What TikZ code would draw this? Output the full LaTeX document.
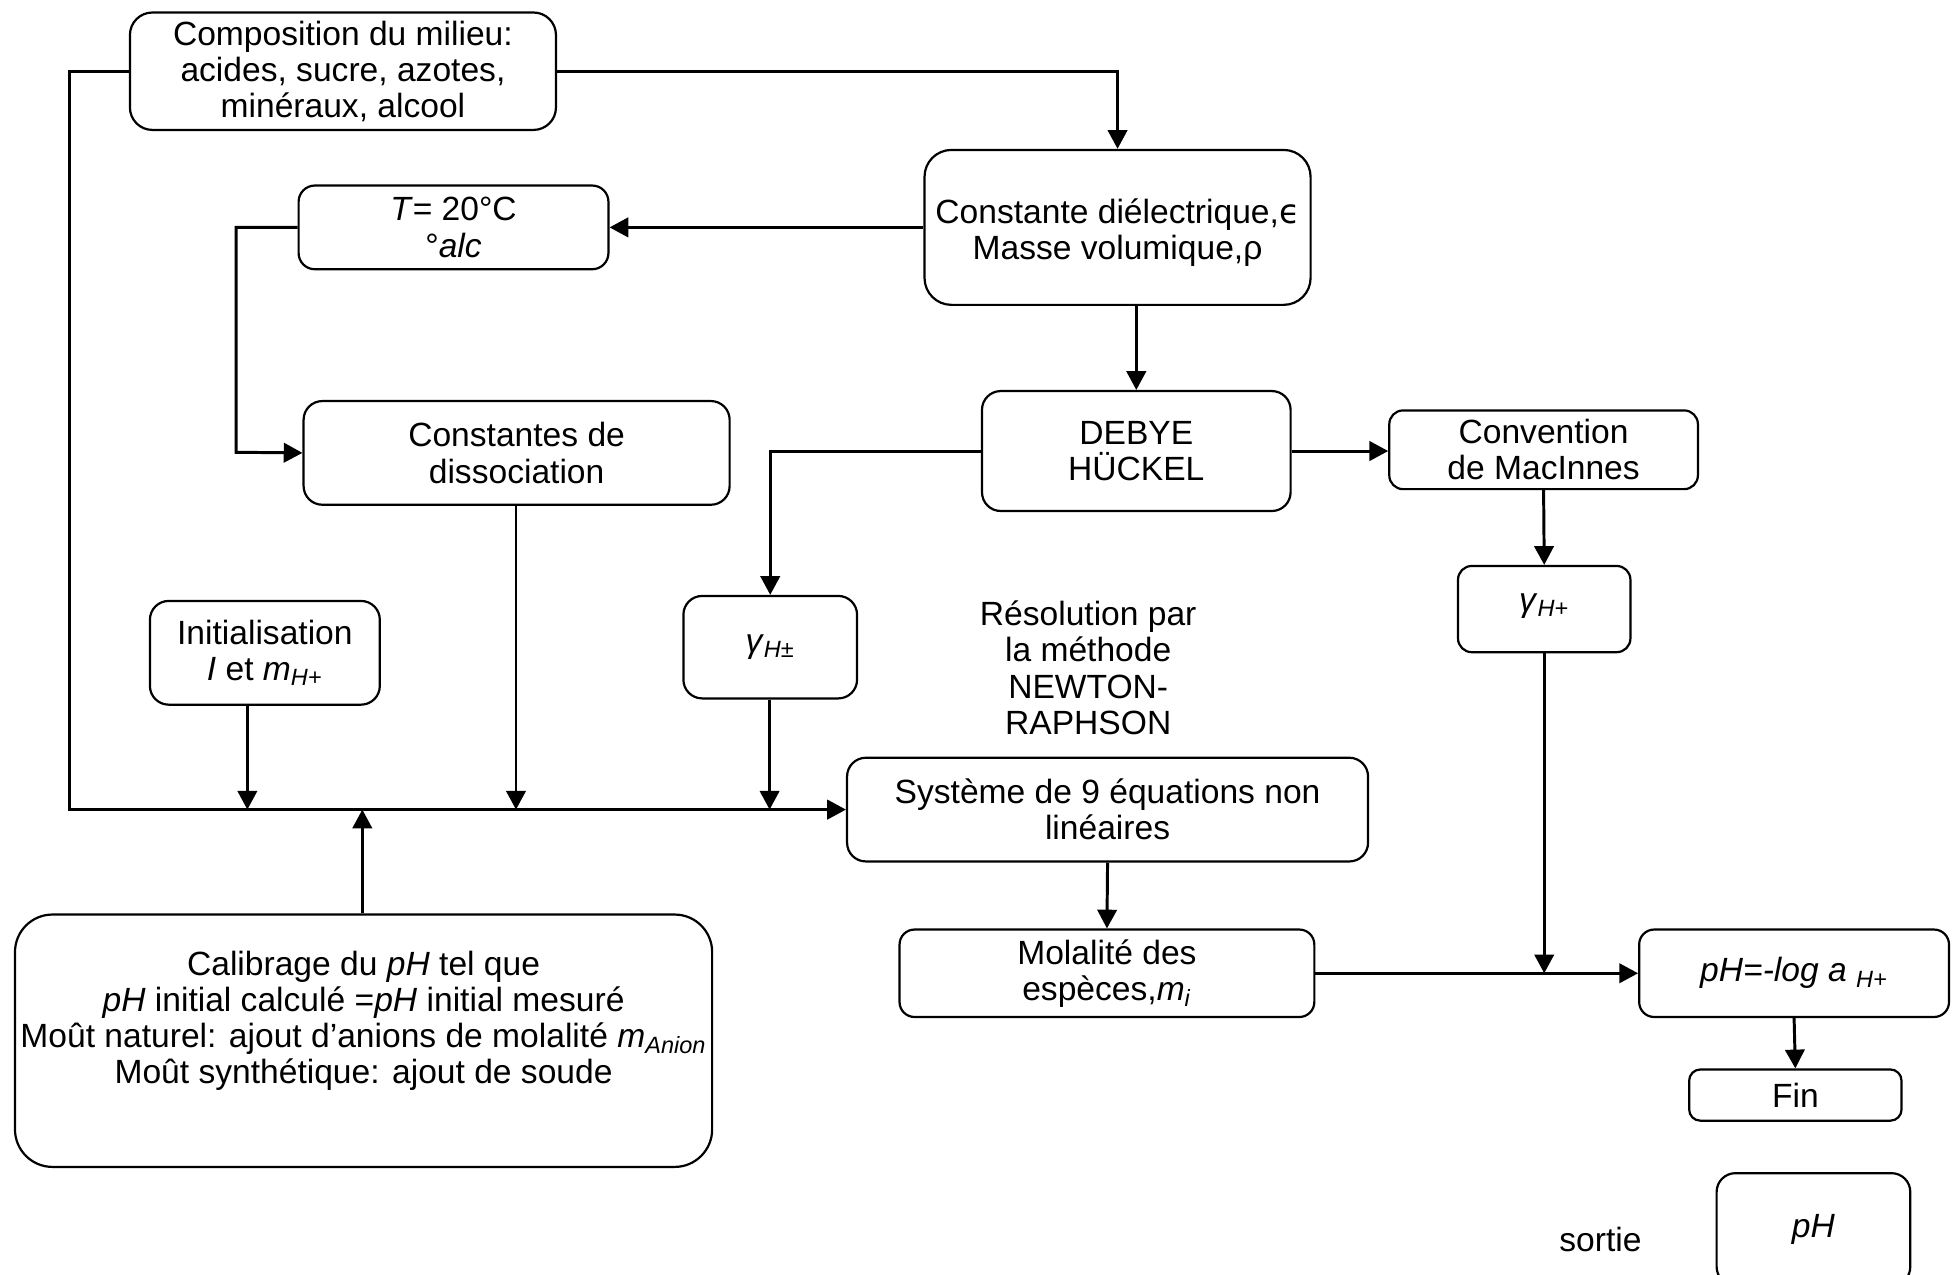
\documentclass[tikz,border=0pt]{standalone}
\usepackage{fontspec}
\setmainfont{Liberation Sans}
\newfontfamily\dejavu{DejaVu Sans}
\usetikzlibrary{arrows.meta}
\newcommand{\ital}[1]{\textit{#1}}
\newcommand{\isub}[1]{\textsubscript{\textit{#1}}}
\begin{document}
\begin{tikzpicture}[x=0.2mm,y=-0.2mm,
  font=\fontsize{15.3}{16.5}\selectfont,
  box/.style={draw,rounded corners=3mm,line width=1pt,align=center,inner sep=0pt},
  arr/.style={-{Triangle[length=3mm,width=3.1mm]},line width=1.35pt},
  txt/.style={align=center,inner sep=0pt}]
\clip (0,0) rectangle (1568,1020);
\node[box,minimum width=68.2mm,minimum height=18.8mm,rounded corners=3.6mm] (comp) at (274.5,57) {Composition du milieu:\\acides, sucre, azotes,\\minéraux, alcool};
\node[box,minimum width=61.8mm,minimum height=24.8mm,rounded corners=4.3mm] (diel) at (894.5,182) {\rule{0pt}{16pt}Constante diélectrique,{\dejavu ϵ}\\Masse volumique,ρ};
\node[box,minimum width=49.6mm,minimum height=13.4mm,rounded corners=2.6mm] (temp) at (363,182) {\ital{T}= 20°C\\°\ital{alc}};
\node[box,minimum width=68.2mm,minimum height=16.6mm] (diss) at (413.5,362.5) {Constantes de\\dissociation};
\node[box,minimum width=49.4mm,minimum height=19.2mm] (debye) at (909.5,361) {DEBYE\\HÜCKEL};
\node[box,minimum width=49.4mm,minimum height=12.6mm,rounded corners=2.2mm] (macin) at (1235.5,360) {Convention\\de MacInnes};
\node[box,minimum width=36.8mm,minimum height=16.6mm] (init) at (212,522.5) {Initialisation\\\ital{I} et \ital{m}\isub{H+}};
\node[box,minimum width=27.8mm,minimum height=16.4mm] (gpm) at (616.5,518) {\ital{γ}\isub{H±}};
\node[box,minimum width=27.6mm,minimum height=13.8mm,rounded corners=2.2mm] (gp) at (1236,487.5) {\ital{γ}\isub{H+}\rule[-6pt]{0pt}{1pt}};
\node[box,minimum width=83.4mm,minimum height=16.6mm] (syst) at (886.5,648) {Système de 9 équations non\\linéaires};
\node[box,minimum width=66.4mm,minimum height=14mm,rounded corners=2.4mm] (molal) at (886,779) {Molalité des\\espèces,\ital{m}\isub{i}};
\node[box,minimum width=111.6mm,minimum height=40.4mm,rounded corners=6mm] (calib) at (291,833) {};
\node[txt] (calibtxt) at (291,817) {Calibrage du \ital{pH} tel que\\\ital{pH} initial calculé =\ital{pH} initial mesuré\\Moût naturel: ajout d’anions de molalité \ital{m}\isub{Anion}\\Moût synthétique: ajout de soude};
\node[box,minimum width=49.6mm,minimum height=14mm,rounded corners=2.4mm] (phlog) at (1436,779) {\ital{pH=-log a} \isub{H+}};
\node[box,minimum width=34mm,minimum height=8.2mm,rounded corners=1.8mm] (fin) at (1437,876.5) {Fin};
\node[box,minimum width=31mm,minimum height=18mm] (phout) at (1451.5,984) {\ital{pH}};
\node[txt] (sortie) at (1281,992) {sortie};
\node[txt] (newton) at (871,534.5) {Résolution par\\la méthode\\NEWTON-\\RAPHSON};
\coordinate (lc) at (56,648);
\coordinate (cd) at (189,362);
\coordinate (mI) at (198,648);
\coordinate (mC) at (290,648);
\coordinate (mD) at (413,648);
\coordinate (mG) at (616,648);
\draw[arr] (comp.east) -| (diel.north);
\draw[arr] (comp.west) -| (lc) -- (syst.west);
\draw[arr] (diel.west) -- (temp.east);
\draw[arr] (temp.west) -| (cd) -- (diss.west);
\draw[arr] (debye.north |- diel.south) -- (debye.north);
\draw[arr] (debye.west) -| (gpm.north);
\draw[arr] (debye.east) -- (debye.east -| macin.west);
\draw[arr] (macin.south) -- (gp.north);
\draw[arr] (diss.south -| mD) -- (mD);
\draw[arr] (init.south -| mI) -- (mI);
\draw[arr] (gpm.south -| mG) -- (mG);
\draw[arr] (calib.north -| mC) -- (mC);
\draw[arr] (syst.south) -- (molal.north);
\draw[arr] (molal.east) -- (phlog.west);
\draw[arr] (gp.south) -- (gp.south |- molal.east);
\draw[arr] (phlog.south) -- (fin.north);
\end{tikzpicture}
\end{document}
